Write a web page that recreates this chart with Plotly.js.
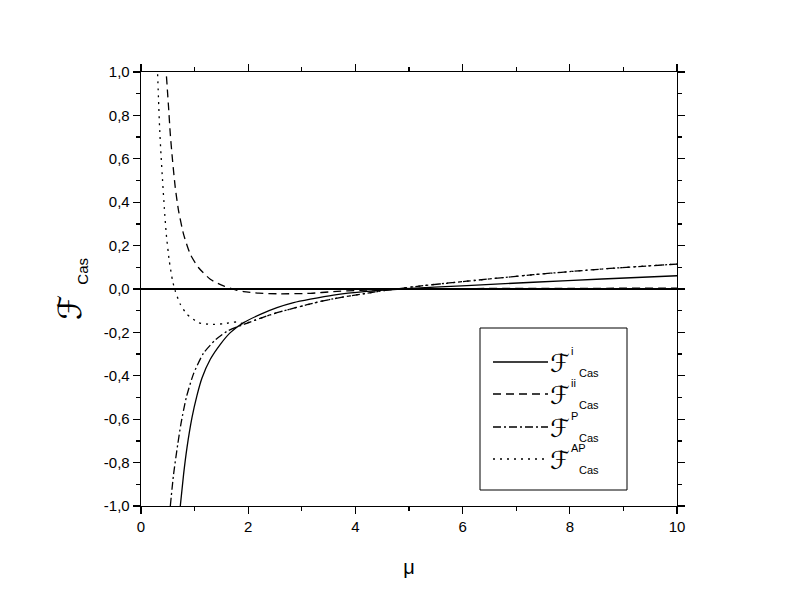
<!DOCTYPE html>
<html>
<head>
<meta charset="utf-8">
<script src="https://cdn.plot.ly/plotly-3.0.1.min.js"></script>
<style>html,body{margin:0;padding:0;background:#fff}#chart{width:785px;height:606px}</style>
</head>
<body>
<div id="chart"></div>
<script>
// ---- data ----
const muI = [0.733,0.795,0.858,0.951,1.045,1.138,1.293,1.48,1.666,1.914,2.226,2.537,2.847,3.159,3.59,4.21,4.85,6.08,7.32,8.6,10];
const fI  = [-1.0,-0.853,-0.731,-0.593,-0.49,-0.41,-0.324,-0.255,-0.201,-0.155,-0.117,-0.086,-0.063,-0.047,-0.028,-0.011,0.0,0.016,0.031,0.046,0.061];

const muII = [0.475,0.515,0.547,0.59,0.64,0.702,0.795,0.92,1.075,1.293,1.54,1.79,1.914,2.2,2.537,3.159,3.59,4.09,4.8,6,8,10];
const fII  = [0.98,0.835,0.712,0.589,0.466,0.359,0.252,0.16,0.098,0.045,0.014,-0.006,-0.012,-0.019,-0.022,-0.02,-0.012,-0.006,0.0,0.002,0.003,0.004];

const muP = [0.547,0.608,0.683,0.746,0.845,0.981,1.168,1.386,1.604,1.914,2.226,2.537,2.9,3.3,3.59,4.2,4.75,5.4,6.08,7.32,8.6,10];
const fP  = [-1.0,-0.853,-0.72,-0.62,-0.5,-0.39,-0.295,-0.235,-0.195,-0.163,-0.135,-0.109,-0.085,-0.06,-0.045,-0.02,0.0,0.019,0.036,0.066,0.092,0.115];

const muAP = [0.31,0.328,0.347,0.373,0.403,0.435,0.472,0.528,0.59,0.64,0.733,0.858,1.075,1.293,1.541,1.79,1.914,2.226,2.537,2.9,3.3,3.59,4.2,4.75,5.4,6.08,7.32,8.6,10];
const fAP  = [0.99,0.866,0.743,0.62,0.497,0.374,0.252,0.129,0.037,-0.01,-0.07,-0.116,-0.155,-0.163,-0.160,-0.152,-0.160,-0.135,-0.109,-0.085,-0.06,-0.045,-0.02,0.0,0.019,0.036,0.066,0.092,0.115];

const seriesNames = ['i','ii','P','AP'];
const xTickVals = [0,2,4,6,8,10];
const xTickText = ['0','2','4','6','8','10'];
const yTickVals = [-1,-0.8,-0.6,-0.4,-0.2,0,0.2,0.4,0.6,0.8,1];
const yTickText = ['-1,0','-0,8','-0,6','-0,4','-0,2','0,0','0,2','0,4','0,6','0,8','1,0'];

// ---- styling ----
const LW = 1.3;
const dashes = ['solid','8px,5px','8px,3px,2px,3px','2px,5px'];
const xs = [muI, muII, muP, muAP];
const ys = [fI, fII, fP, fAP];

const traces = seriesNames.map((n,i) => ({
  x: xs[i], y: ys[i], type: 'scatter', mode: 'lines', name: n,
  line: {color: '#000', width: LW, dash: dashes[i], shape: 'spline', smoothing: 0.6},
  hoverinfo: 'skip'
}));

// pixel -> paper helpers for the legend box (plot area: x 141..677, y 72..506)
const L = 141, R = 677, T = 72, B = 506;
const px = v => (v - L) / (R - L);
const py = v => (B - v) / (B - T);

const legRows = [362, 394, 427, 459];
const shapes = [{type:'rect', xref:'paper', yref:'paper', x0:px(480), x1:px(627), y0:py(328), y1:py(490),
  line:{color:'#000', width:1}, fillcolor:'rgba(0,0,0,0)'}];
const annotations = [];
const fontTxt = 'Liberation Sans, Arial, sans-serif';
const scriptFont = 'DejaVu Serif, DejaVu Sans';
legRows.forEach((ry,i) => {
  shapes.push({type:'line', xref:'paper', yref:'paper', x0:px(493), x1:px(548), y0:py(ry), y1:py(ry),
    line:{color:'#000', width:LW, dash:dashes[i]}});
  annotations.push({xref:'paper', yref:'paper', x:px(560), y:py(ry+1), text:'ℱ', showarrow:false,
    font:{family:scriptFont, size:25, color:'#000'}, xanchor:'center', yanchor:'middle'});
  annotations.push({xref:'paper', yref:'paper', x:px(569), y:py(ry-11), text:seriesNames[i], showarrow:false,
    font:{family:fontTxt, size:11, color:'#000'}, xanchor:'left', yanchor:'middle'});
  annotations.push({xref:'paper', yref:'paper', x:px(577), y:py(ry+11), text:'Cas', showarrow:false,
    font:{family:fontTxt, size:11, color:'#000'}, xanchor:'left', yanchor:'middle'});
});

const axisCommon = {
  showline: true, linecolor: '#000', linewidth: LW, mirror: 'allticks',
  ticks: 'outside', ticklen: 7, tickwidth: LW, tickcolor: '#000',
  showgrid: false, tickmode: 'array',
  tickfont: {family: fontTxt, size: 15, color: '#000'}
};

const layout = {
  width: 785, height: 606,
  margin: {l: L, r: 785 - R, t: T, b: 606 - B, pad: 0},
  paper_bgcolor: '#fff', plot_bgcolor: '#fff',
  showlegend: false,
  xaxis: Object.assign({}, axisCommon, {
    range: [0, 10], tickvals: xTickVals, ticktext: xTickText, zeroline: false,
    minor: {tickmode: 'linear', tick0: 0, dtick: 1, ticks: 'outside', ticklen: 4, tickwidth: LW, tickcolor: '#000', showgrid: false},
    title: {text: 'μ', font: {family: fontTxt, size: 20, color: '#000'}, standoff: 25}
  }),
  yaxis: Object.assign({}, axisCommon, {
    range: [-1, 1], tickvals: yTickVals, ticktext: yTickText,
    zeroline: true, zerolinecolor: '#000', zerolinewidth: LW,
    minor: {tickmode: 'linear', tick0: 0, dtick: 0.1, ticks: 'outside', ticklen: 4, tickwidth: LW, tickcolor: '#000', showgrid: false},
    title: {text: 'ℱ <sub><span style="font-family:Liberation Sans;font-size:15px">Cas</span></sub>',
            font: {family: scriptFont, size: 32, color: '#000'}, standoff: 12}
  }),
  shapes: shapes,
  annotations: annotations
};

Plotly.newPlot('chart', traces, layout, {displayModeBar: false, staticPlot: true});
</script>
</body>
</html>
